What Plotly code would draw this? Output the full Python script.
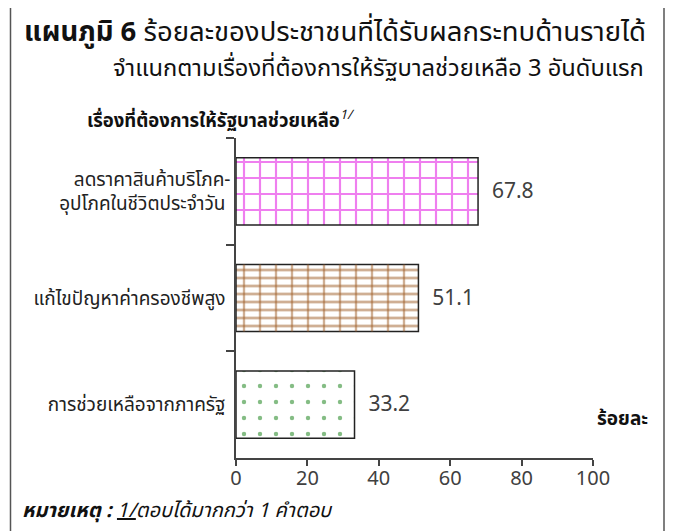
import plotly.graph_objects as go

categories = ["ลดราคาสินค้าบริโภค-<br>อุปโภคในชีวิตประจำวัน", "แก้ไขปัญหาค่าครองชีพสูง", "การช่วยเหลือจากภาครัฐ"]
values = [67.8, 51.1, 33.2]
x_ticks = [0, 20, 40, 60, 80, 100]

FONT = "Tahoma, 'Noto Sans Thai', 'Noto Sans', sans-serif"

OFF = 8  # page body margin
W, H = 673 - OFF, 531 - OFF
L, R, T, B = 236 - OFF, 593 - OFF, 138 - OFF, 458.5 - OFF

def px(x):
    return (x - OFF - L) / (R - L)

def py(y):
    return (B - (y - OFF)) / (B - T)

fig = go.Figure()

fig.add_trace(go.Bar(
    y=categories, x=values, orientation="h",
    text=["  %.1f" % v for v in values], textposition="outside",
    textfont=dict(size=21, color="#404040", family=FONT),
    cliponaxis=False,
    marker=dict(
        color="white",
        line=dict(color="#222222", width=1.5),
        pattern=dict(
            shape=["+", "-", "."],
            fgcolor=["#E000E0", "#A0602A", "#0A7A0A"],
            bgcolor=["white", "white", "white"],
            size=[16, 8, 16],
            solidity=[0.25, 0.35, 0.06],
            fillmode="overlay",
        ),
    ),
    showlegend=False, hoverinfo="skip",
))

fig.add_trace(go.Bar(
    y=[categories[1]], x=[values[1]], orientation="h",
    marker=dict(
        color="rgba(0,0,0,0)",
        line=dict(width=0),
        pattern=dict(shape="|", fgcolor="#A0602A", bgcolor="rgba(0,0,0,0)",
                     size=16, solidity=0.15, fillmode="overlay"),
    ),
    showlegend=False, hoverinfo="skip",
))

fig.update_layout(
    width=W, height=H,
    margin=dict(l=L, r=W - R, t=T, b=H - B),
    paper_bgcolor="white", plot_bgcolor="white",
    barmode="overlay", bargap=0.37,
    font=dict(family=FONT, color="#222222"),
    xaxis=dict(range=[0, 100], tickvals=x_ticks, ticks="outside", ticklen=6,
               tickwidth=1.5, tickcolor="#444444", showline=True, linecolor="#444444",
               linewidth=1.5, showgrid=False, zeroline=False, ticklabelstandoff=-5,
               tickfont=dict(size=20, color="#404040", family=FONT)),
    yaxis=dict(autorange="reversed", ticks="outside", tickson="boundaries", ticklen=8,
               tickwidth=1.5, tickcolor="#444444", showline=True, linecolor="#444444",
               linewidth=1.5, showgrid=False, ticksuffix=" ",
               tickfont=dict(size=19, color="#222222", family=FONT)),
)

ann = [
    dict(x=px(22), y=py(32), xanchor="left", yanchor="middle",
         text="<b>แผนภูมิ 6</b> ร้อยละของประชาชนที่ได้รับผลกระทบด้านรายได้",
         font=dict(size=27.5, color="#111111", family=FONT)),
    dict(x=px(646), y=py(69), xanchor="right", yanchor="middle",
         text="จำแนกตามเรื่องที่ต้องการให้รัฐบาลช่วยเหลือ 3 อันดับแรก",
         font=dict(size=23.7, color="#111111", family=FONT)),
    dict(x=px(85), y=py(120), xanchor="left", yanchor="middle",
         text="<b>เรื่องที่ต้องการให้รัฐบาลช่วยเหลือ</b><sup><i>1/</i></sup>",
         font=dict(size=18.5, color="#111111", family=FONT)),
    dict(x=px(650), y=py(420), xanchor="right", yanchor="middle",
         text="<b>ร้อยละ</b>",
         font=dict(size=19, color="#111111", family=FONT)),
    dict(x=px(20), y=py(512), xanchor="left", yanchor="middle",
         text="<b><i>หมายเหตุ :</i></b> <i><u>1/</u>ตอบได้มากกว่า 1 คำตอบ</i>",
         font=dict(size=20, color="#111111", family=FONT)),
]
for a in ann:
    a.update(xref="paper", yref="paper", showarrow=False)
    fig.add_annotation(**a)

fig.add_shape(type="rect", xref="paper", yref="paper",
              x0=px(10.5), x1=px(664), y0=py(545), y1=py(4.5),
              line=dict(color="#555555", width=1.5), fillcolor="rgba(0,0,0,0)")

fig.write_html("out.html")
